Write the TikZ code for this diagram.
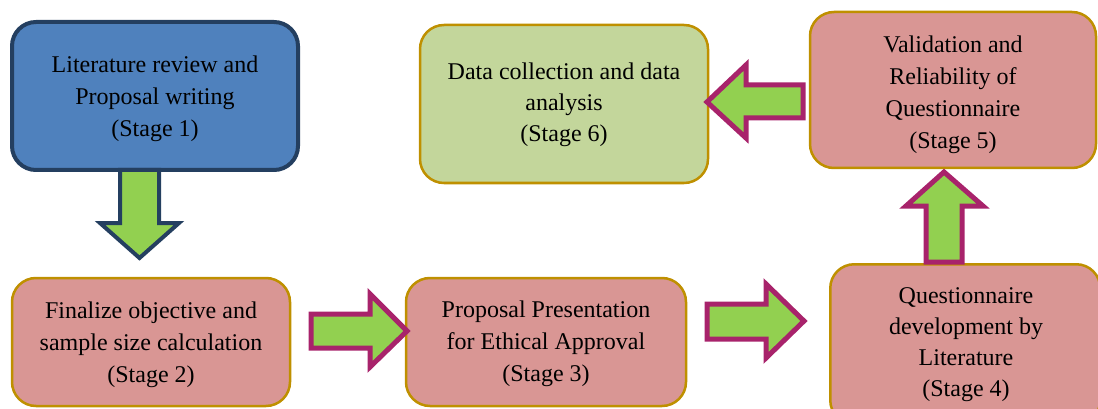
\documentclass[tikz,border=0pt]{standalone}
\usepackage{fontspec}
\setmainfont{Liberation Serif}
\usetikzlibrary{calc}
\definecolor{bluefill}{HTML}{4F81BD}
\definecolor{navy}{HTML}{243F60}
\definecolor{pinkfill}{HTML}{D99694}
\definecolor{greenbox}{HTML}{C3D69B}
\definecolor{gold}{HTML}{BF9000}
\definecolor{arrowgreen}{HTML}{92D050}
\definecolor{magentaedge}{HTML}{A8236B}
\begin{document}
\begin{tikzpicture}[x=1pt,y=-1pt,
  stagebox/.style={rounded corners=24pt, inner sep=0pt},
  pinkbox/.style={stagebox, fill=pinkfill, draw=gold, line width=2.5pt},
  stagetext/.style={align=center, inner sep=0pt, text=black,
    font=\fontsize{24}{32}\selectfont},
  blockarrow/.style={fill=arrowgreen, draw=magentaedge, line width=5pt, line join=miter},
  navyarrow/.style={fill=arrowgreen, draw=navy, line width=4pt, line join=miter}]
\useasboundingbox (0,0) rectangle (1098,409);
\clip (0,0) rectangle (1098,409);
% boxes
\node[stagebox, fill=bluefill, draw=navy, line width=4pt,
  minimum width=286pt, minimum height=148pt] (s1) at (155,96) {};
\node[stagebox, fill=greenbox, draw=gold, line width=2.5pt,
  minimum width=288pt, minimum height=158pt] (s6) at (564,104) {};
\node[pinkbox, minimum width=286pt, minimum height=156pt] (s5) at (953,90) {};
\node[pinkbox, minimum width=278pt, minimum height=128pt] (s2) at (151,342) {};
\node[pinkbox, minimum width=280pt, minimum height=128pt] (s3) at (546,342) {};
\node[pinkbox, minimum width=270pt, minimum height=160pt, anchor=north west] (s4) at (829,263) {};
% texts
\node[stagetext] (t1) at ($(s1.center)+(0,3)$)
  {Literature review and\\Proposal writing\\(Stage 1)};
\node[stagetext, font=\fontsize{24}{31}\selectfont] (t6) at ($(s6.center)+(0,1)$)
  {Data collection and data\\analysis\\(Stage 6)};
\node[stagetext] (t5) at ($(s5.center)+(0,5)$)
  {Validation and\\Reliability of\\Questionnaire\\(Stage 5)};
\node[stagetext] (t2) at ($(s2.center)+(0,2.5)$)
  {Finalize objective and\\sample size calculation\\(Stage 2)};
\node[stagetext] (t3) at ($(s3.center)+(0,2)$)
  {Proposal Presentation\\for Ethical Approval\\(Stage 3)};
\node[stagetext, font=\fontsize{24}{31}\selectfont] (t4) at (966,345)
  {Questionnaire\\development by\\Literature\\(Stage 4)};
% arrows
\draw[navyarrow] (120,170) -- (159,170) -- (159,223) -- (179,223) -- (139.5,258)
  -- (100,223) -- (120,223) -- cycle;
\draw[blockarrow] (311,314) -- (370,314) -- (370,294) -- (407,331) -- (370,367)
  -- (370,348) -- (311,348) -- cycle;
\draw[blockarrow] (707,304) -- (766,304) -- (766,284) -- (804,321) -- (766,358)
  -- (766,339) -- (707,339) -- cycle;
\draw[blockarrow] (803,85) -- (746,85) -- (746,65) -- (707,102) -- (746,138)
  -- (746,118) -- (803,118) -- cycle;
\draw[blockarrow] (926,262) -- (926,206) -- (906,206) -- (944,172) -- (983,206)
  -- (962,206) -- (962,262) -- cycle;
\end{tikzpicture}
\end{document}
